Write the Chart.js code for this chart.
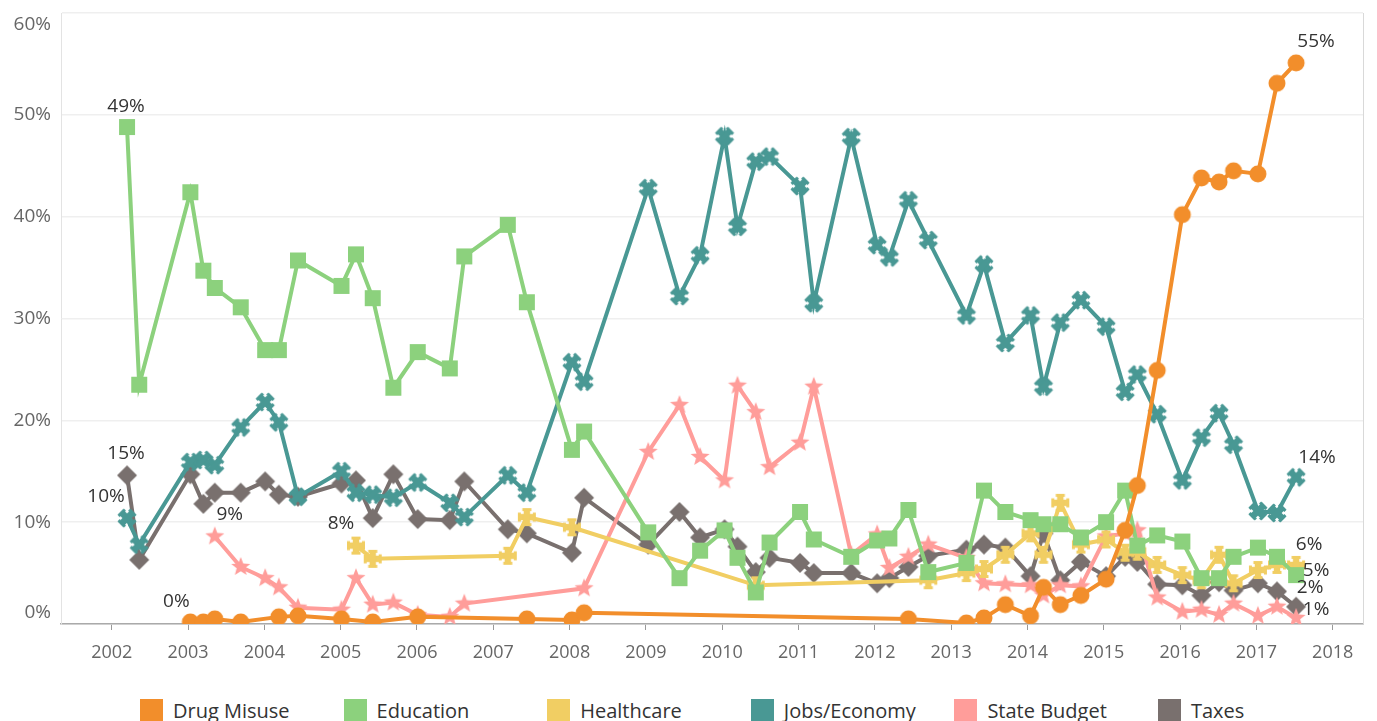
<!DOCTYPE html>
<html>
<head>
<meta charset="utf-8">
<script src="https://cdn.jsdelivr.net/npm/chart.js@4.4.1/dist/chart.umd.min.js"></script>
<style>
  body { margin: 0; background: #fff; font-family: "Open Sans", sans-serif; }
  #wrap { position: relative; width: 1377px; height: 690px; }
  #legend { position: absolute; top: 697px; left: 140px; display: flex; }
  .item { width: 203.6px; display: flex; align-items: center; font-size: 20px; color: #333; }
  .swatch { width: 23px; height: 23px; margin-right: 10px; flex: none; }
</style>
</head>
<body>
<div id="wrap"><canvas id="chart"></canvas></div>
<div id="legend"></div>
<script>
// survey dates as fractional years
const surveyDates = [
  2002.20, 2002.36,
  2003.03, 2003.20, 2003.35, 2003.69,
  2004.01, 2004.19, 2004.44,
  2005.01, 2005.20, 2005.42, 2005.69,
  2006.01, 2006.43, 2006.62,
  2007.19, 2007.44,
  2008.03, 2008.19,
  2009.03, 2009.44, 2009.71,
  2010.03, 2010.20, 2010.44, 2010.62,
  2011.02, 2011.20, 2011.69,
  2012.03, 2012.19, 2012.44, 2012.70,
  2013.20, 2013.43, 2013.71,
  2014.04, 2014.21, 2014.43, 2014.70,
  2015.03, 2015.28, 2015.44, 2015.70,
  2016.03, 2016.28, 2016.51, 2016.70,
  2017.02, 2017.27, 2017.52
];

// percent naming each issue, null = not asked
const drugMisuse = [
  null, null,
  0.2, 0.2, 0.5, 0.2,
  null, 0.7, 0.8,
  0.5, null, 0.2, null,
  0.7, null, null,
  null, 0.5,
  0.4, 1.1,
  null, null, null,
  null, null, null, null,
  null, null, null,
  null, null, 0.5, null,
  0.1, 0.6, 1.9,
  0.8, 3.6, 1.9, 2.8,
  4.4, 9.2, 13.6, 24.9,
  40.2, 43.8, 43.4, 44.5,
  44.2, 53.1, 55.1
];
const education = [
  48.8, 23.5,
  42.4, 34.7, 33.0, 31.1,
  26.9, 26.9, 35.7,
  33.2, 36.3, 32.0, 23.2,
  26.7, 25.1, 36.1,
  39.2, 31.6,
  17.1, 18.9,
  9.0, 4.5, 7.2,
  9.2, 6.5, 3.1, 8.0,
  11.0, 8.3, 6.6,
  8.2, 8.4, 11.2, 5.1,
  6.0, 13.1, 11.0,
  10.2, 9.8, 9.8, 8.5,
  10.0, 13.1, 7.7, 8.7,
  8.1, 4.5, 4.5, 6.6,
  7.5, 6.6, 4.8
];
const healthcare = [
  null, null,
  null, null, null, null,
  null, null, null,
  null, 7.7, 6.4, null,
  null, null, null,
  6.7, 10.5,
  9.5, null,
  null, null, null,
  null, null, 3.8, null,
  null, null, null,
  null, null, null, 4.3,
  5.0, 5.4, 6.8,
  8.9, 6.8, 11.9, 7.8,
  8.3, 7.0, 7.1, 5.8,
  4.8, 4.3, 6.8, 4.0,
  5.3, 5.8, 5.8
];
const jobsEconomy = [
  10.4, 7.8,
  15.9, 16.1, 15.6, 19.3,
  21.8, 19.8, 12.5,
  15.0, 12.9, 12.7, 12.4,
  13.9, 11.9, 10.5,
  14.6, 12.9,
  25.7, 23.8,
  42.8, 32.2, 36.2,
  47.9, 39.0, 45.4, 45.9,
  43.0, 31.5, 47.8,
  37.2, 36.0, 41.6, 37.7,
  30.3, 35.3, 27.6,
  30.3, 23.3, 29.6, 31.8,
  29.2, 22.8, 24.5, 20.6,
  14.1, 18.3, 20.7, 17.6,
  11.1, 10.9, 14.4
];
const stateBudget = [
  null, null,
  null, null, 8.6, 5.6,
  4.5, 3.6, 1.6,
  1.4, 4.5, 1.9, 2.1,
  0.9, 0.7, 2.0,
  null, null,
  null, 3.5,
  16.9, 21.5, 16.4,
  14.1, 23.4, 20.8, 15.4,
  17.8, 23.3, 6.8,
  8.8, 5.5, 6.6, 7.8,
  6.5, 4.0, 3.9,
  3.8, 2.8, 3.8, 3.7,
  8.6, 8.9, 9.2, 2.6,
  1.2, 1.4, 0.9, 2.0,
  0.8, 1.7, 0.6
];
const taxes = [
  14.6, 6.3,
  14.7, 11.8, 12.9, 12.9,
  14.0, 12.7, 12.5,
  13.8, 14.1, 10.4, 14.7,
  10.3, 10.2, 14.0,
  9.3, 8.9,
  7.0, 12.4,
  7.8, 11.0, 8.5,
  9.3, 7.6, 5.1, 6.5,
  6.0, 5.0, 5.0,
  4.0, 4.5, 5.6, 6.7,
  7.3, 7.8, 7.5,
  4.7, 8.9, 4.3, 6.1,
  4.7, 6.6, 6.1, 3.9,
  3.8, 2.8, 4.1, 3.3,
  4.0, 3.2, 1.7
];

const seriesNames = ["Drug Misuse", "Education", "Healthcare", "Jobs/Economy", "State Budget", "Taxes"];
const seriesValues = [drugMisuse, education, healthcare, jobsEconomy, stateBudget, taxes];
const yearTicks = [2002, 2003, 2004, 2005, 2006, 2007, 2008, 2009, 2010, 2011, 2012, 2013, 2014, 2015, 2016, 2017, 2018];
const percentTicks = [0, 10, 20, 30, 40, 50, 60];

const colors = ["#f28e2b", "#8cd17d", "#f1ce63", "#499894", "#ff9d9a", "#79706e"];
const shapes = ["circle", "square", "plus", "cross", "star", "diamond"];

// label offsets for first / last point of each series
const labelOffsets = [
  [[-14, -20], [20, -21]],
  [[-1, -20], [20, -5]],
  [[-15, -22], [13, -20]],
  [[-21, -21], [21, -20]],
  [[15, -22], [20, -8]],
  [[-1, -22], [14, -19]]
];

function makeMarker(shape, color) {
  const size = 22;
  const c = document.createElement("canvas");
  c.width = size;
  c.height = size;
  const g = c.getContext("2d");
  g.fillStyle = color;
  g.translate(size / 2, size / 2);
  if (shape === "circle") {
    g.beginPath();
    g.arc(0, 0, 8.5, 0, Math.PI * 2);
    g.fill();
  } else if (shape === "square") {
    g.fillRect(-8, -8, 16, 16);
  } else if (shape === "diamond") {
    g.beginPath();
    g.moveTo(0, -10); g.lineTo(10, 0); g.lineTo(0, 10); g.lineTo(-10, 0);
    g.closePath();
    g.fill();
  } else if (shape === "plus" || shape === "cross") {
    if (shape === "cross") g.rotate(Math.PI / 4);
    g.fillRect(-9, -3.2, 18, 6.4);
    g.fillRect(-3.2, -9, 6.4, 18);
    g.fillRect(-9, -4.5, 3, 9);
    g.fillRect(6, -4.5, 3, 9);
    g.fillRect(-4.5, -9, 9, 3);
    g.fillRect(-4.5, 6, 9, 3);
  } else if (shape === "star") {
    g.beginPath();
    for (let k = 0; k < 10; k++) {
      const r = k % 2 === 0 ? 10 : 4.3;
      const a = -Math.PI / 2 + k * Math.PI / 5;
      g.lineTo(Math.cos(a) * r, Math.sin(a) * r);
    }
    g.closePath();
    g.fill();
  }
  return c;
}

const datasets = seriesNames.map((name, i) => ({
  label: name,
  data: surveyDates
    .map((d, j) => ({ x: d, y: seriesValues[i][j] }))
    .filter(p => p.y !== null),
  borderColor: colors[i],
  backgroundColor: colors[i],
  borderWidth: 4,
  pointStyle: makeMarker(shapes[i], colors[i]),
  pointRadius: 9,
  tension: 0
}));

const pointLabels = {
  id: "pointLabels",
  afterDatasetsDraw(chart) {
    const ctx = chart.ctx;
    ctx.save();
    ctx.font = '19px "Open Sans"';
    ctx.fillStyle = "#333";
    ctx.textAlign = "center";
    ctx.textBaseline = "middle";
    chart.data.datasets.forEach((ds, i) => {
      const pts = chart.getDatasetMeta(i).data;
      [0, pts.length - 1].forEach((idx, k) => {
        const off = labelOffsets[i][k];
        const v = ds.data[idx].y;
        ctx.fillText(Math.round(v) + "%", pts[idx].x + off[0], pts[idx].y + off[1]);
      });
    });
    ctx.restore();
  },
  afterDraw(chart) {
    const a = chart.chartArea;
    const ctx = chart.ctx;
    ctx.save();
    ctx.strokeStyle = "#d9d9d9";
    ctx.lineWidth = 1;
    ctx.beginPath();
    ctx.moveTo(a.right + 0.5, a.top);
    ctx.lineTo(a.right + 0.5, a.bottom);
    ctx.stroke();
    ctx.restore();
  }
};

new Chart(document.getElementById("chart"), {
  type: "line",
  data: { datasets },
  plugins: [pointLabels],
  options: {
    responsive: true,
    maintainAspectRatio: false,
    animation: false,
    events: [],
    layout: { padding: { top: 12, right: 14, left: 0, bottom: 0 } },
    plugins: { legend: { display: false }, tooltip: { enabled: false } },
    scales: {
      x: {
        type: "linear",
        min: 2001.335,
        max: 2018.397,
        afterBuildTicks: s => { s.ticks = yearTicks.map(v => ({ value: v })); },
        afterFit: s => { s.height = 66; s.paddingLeft = 0; s.paddingRight = 0; },
        ticks: {
          callback: v => String(v),
          color: "#666",
          font: { family: "Open Sans", size: 18 },
          padding: 12,
          maxRotation: 0,
          autoSkip: false
        },
        grid: { drawOnChartArea: false, drawTicks: true, tickLength: 6, color: "#999" },
        border: { color: "#aaa", width: 1.5 }
      },
      y: {
        min: 0,
        max: 60,
        afterBuildTicks: s => { s.ticks = percentTicks.map(v => ({ value: v })); },
        afterFit: s => { s.width = 61; s.paddingTop = 0; s.paddingBottom = 0; },
        ticks: {
          // keep end labels inside the plot, like the original
          callback: v => v === 60 ? ["", v + "%"] : v === 0 ? [v + "%", ""] : v + "%",
          color: "#666",
          font: { family: "Open Sans", size: 19 },
          padding: 10
        },
        grid: { color: "#efefef", lineWidth: 1.5, drawTicks: false },
        border: { color: "#e3e3e3" }
      }
    }
  }
});

const legendEl = document.getElementById("legend");
seriesNames.forEach((name, i) => {
  const item = document.createElement("div");
  item.className = "item";
  item.innerHTML = `<span class="swatch" style="background:${colors[i]}"></span><span>${name}</span>`;
  legendEl.appendChild(item);
});
</script>
</body>
</html>
